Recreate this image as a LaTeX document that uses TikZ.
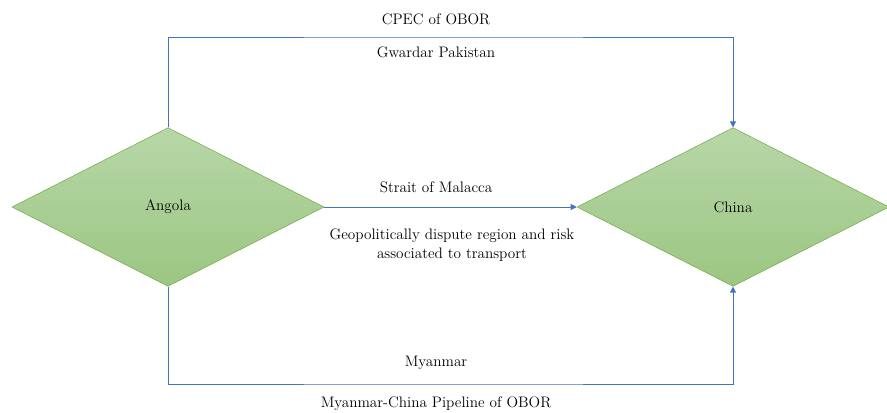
\documentclass[tikz,border=0pt]{standalone}
\usepackage{tikz}
\usetikzlibrary{shapes.geometric,arrows.meta}

\definecolor{leafborder}{RGB}{112,173,71}
\definecolor{leaftop}{RGB}{183,215,168}
\definecolor{leafbottom}{RGB}{156,198,130}
\definecolor{routeblue}{RGB}{68,114,196}

\begin{document}
\begin{tikzpicture}[x=0.75pt,y=-0.75pt,
    country/.style={diamond,draw=leafborder,top color=leaftop,bottom color=leafbottom,
      minimum width=234pt,minimum height=119pt,inner sep=0pt,font=\fontsize{11.4}{14}\selectfont},
    route/.style={draw=routeblue,line width=0.6pt,-{Triangle[width=4.5pt,length=4.5pt]}},
    lbl/.style={font=\fontsize{11.4}{14.2}\selectfont,align=center}]
    \useasboundingbox (0,0) rectangle (887,413);
    \node[country] (angola) at (168,207) {Angola};
    \node[country] (china) at (733,207) {China};
%    routes
    \coordinate (northroute) at (436,37);
    \coordinate (southroute) at (436,384);
    \draw[route] (angola.north) |- (northroute) -| (china.north);
    \draw[route] (angola.east) -- (china.west);
    \draw[route] (angola.south) |- (southroute) -| (china.south);
%    labels
    \node[lbl] (cpec) at (436,19) {CPEC of OBOR};
    \node[lbl] (gwadar) at (436,52) {Gwardar Pakistan};
    \node[lbl] (malacca) at (436,187) {Strait of Malacca};
    \node[lbl] (dispute) at (452,245) {Geopolitically dispute region and risk\\associated to transport};
    \node[lbl] (myanmar) at (436,363) {Myanmar};
    \node[lbl] (pipeline) at (436,404) {Myanmar-China Pipeline of OBOR};
  \end{tikzpicture}
\end{document}
